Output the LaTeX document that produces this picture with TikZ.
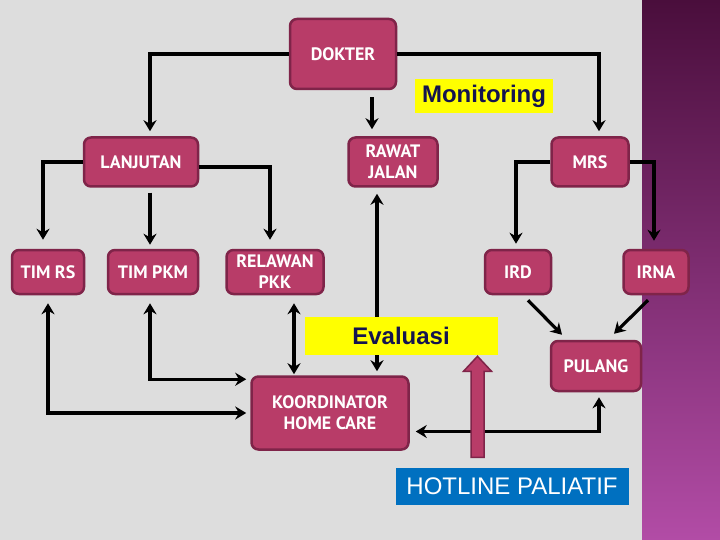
\documentclass[tikz,border=0pt]{standalone}
\usepackage{fontspec}
\setmainfont{PT Sans}
\newfontfamily\arialfont{Liberation Sans}
\usepackage{tikz}
\usetikzlibrary{arrows.meta,positioning}
\definecolor{boxfill}{HTML}{B83C68}
\definecolor{boxedge}{HTML}{7F2449}
\definecolor{bggray}{HTML}{DDDDDD}
\definecolor{striptop}{HTML}{4A0E3C}
\definecolor{stripbot}{HTML}{B24CA6}
\definecolor{marker}{HTML}{FFFF00}
\definecolor{navy}{HTML}{14144F}
\definecolor{hotblue}{HTML}{0070C0}

\begin{document}
\begin{tikzpicture}[
    x=1pt,y=-1pt,
    box/.style={draw=boxedge,fill=boxfill,line width=2.5pt,rounded corners=7pt,align=center,text=white,inner sep=2pt,font=\bfseries\fontsize{18}{21}\selectfont},
    tag/.style={fill=marker,text=navy,inner sep=0pt,font=\arialfont\bfseries\fontsize{24}{27}\selectfont},
    arrow/.style={-{Stealth[length=11pt,width=13pt]},line width=3.2pt},
    both/.style={{Stealth[length=11pt,width=13pt]}-{Stealth[length=11pt,width=13pt]},line width=3.2pt},
    hotarrow/.style={draw=boxedge,fill=boxfill,line width=1.5pt,line join=miter}
  ]
    \useasboundingbox (0,0) rectangle (720,540);

    % Slide background
    \fill[bggray] (0,0) rectangle (642,540);
    \shade[top color=striptop,bottom color=stripbot] (642,0) rectangle (720,540);

    % Top row
    \node[box,minimum width=106pt,minimum height=70pt] (dokter) at (343,54) {DOKTER};
    \node[box,minimum width=114pt,minimum height=49pt] (lanjutan) at (141,162) {LANJUTAN};
    \node[box,minimum width=89pt,minimum height=49pt] (rawat) at (393,162) {RAWAT\\JALAN};
    \node[box,minimum width=77pt,minimum height=49pt] (mrs) at (590,162) {MRS};

    % Second row
    \node[box,minimum width=72pt,minimum height=44pt] (timrs) at (48,272) {TIM RS};
    \node[box,minimum width=90pt,minimum height=44pt] (timpkm) at (153,272) {TIM PKM};
    \node[box,minimum width=97pt,minimum height=44pt] (relawan) at (275,272) {RELAWAN\\PKK};
    \node[box,minimum width=66pt,minimum height=44pt] (ird) at (518,272) {IRD};
    \node[box,minimum width=65pt,minimum height=44pt] (irna) at (656,272) {IRNA};

    % Bottom
    \node[box,minimum width=90pt,minimum height=50pt] (pulang) at (596,366) {PULANG};
    \node[box,minimum width=157pt,minimum height=73pt] (koord) at (330,413) {KOORDINATOR\\HOME CARE};
    \node[fill=hotblue,text=white,inner sep=0pt,font=\arialfont\fontsize{24}{27}\selectfont,minimum width=233pt,minimum height=37pt] (hotline) at (512,486) {HOTLINE PALIATIF};

    % Arrows
    \draw[arrow,shorten >=5pt] (dokter.west) -| ([xshift=9pt]lanjutan.north);
    \draw[arrow,shorten >=5pt] (dokter.east) -| ([xshift=9pt]mrs.north);
    \draw[arrow,shorten <=7pt,shorten >=7pt] ([xshift=29pt]dokter.south) -- ([xshift=29pt]dokter.south |- rawat.north);
    \draw[arrow,shorten >=9pt] (lanjutan.west) -| ([xshift=-5pt]timrs.north);
    \draw[arrow,shorten >=9pt] ([yshift=-5pt]lanjutan.east) -| ([xshift=-5pt]relawan.north);
    \draw[arrow,shorten <=5pt,shorten >=4pt] ([xshift=9pt]lanjutan.south) -- ([xshift=9pt]lanjutan.south |- timpkm.north);
    \draw[arrow,shorten >=5pt] (mrs.west) -| ([xshift=-2pt]ird.north);
    \draw[arrow,shorten >=8pt] (mrs.east) -| ([xshift=-2pt]irna.north);
    \draw[arrow] ([shift={(10pt,-5pt)}]ird.south) -- ([shift={(-34pt,5pt)}]pulang.north);
    \draw[arrow] ([shift={(-8pt,-5pt)}]irna.south) -- ([shift={(18pt,6pt)}]pulang.north);
    \draw[both,shorten <=6pt,shorten >=4pt] ([xshift=-16pt]rawat.south) -- ([xshift=-16pt]rawat.south |- koord.north);
    \draw[both,shorten <=8pt,shorten >=4pt] (timrs.south) |- (koord.west);
    \draw[both,shorten <=8pt,shorten >=4pt] ([xshift=-3pt]timpkm.south) |- ([yshift=-4pt]koord.north west);
    \draw[both,shorten <=8pt,shorten >=1pt] ([xshift=19pt]relawan.south) -- ([xshift=19pt]relawan.south |- koord.north);
    \draw[both,shorten <=6pt,shorten >=5pt] ([yshift=-18.5pt]koord.east) -| ([xshift=3pt]pulang.south);

    % Labels over the lines
    \node[tag,minimum width=138pt,minimum height=34pt] (monitoring) at (484,96) {Monitoring};
    \node[tag,minimum width=193pt,minimum height=38pt] (evaluasi) at (401,336) {Evaluasi};

    % Hotline block arrow
    \coordinate (hotbase) at ([xshift=-34.5pt,yshift=10pt]hotline.north);
    \draw[hotarrow] ([xshift=-6.5pt]hotbase) -- ++(0,-86) -- ++(-7.5,0) -- ++(14,-15)
      -- ++(14,15) -- ++(-7.5,0) -- ++(0,86) -- cycle;
  \end{tikzpicture}
\end{document}
